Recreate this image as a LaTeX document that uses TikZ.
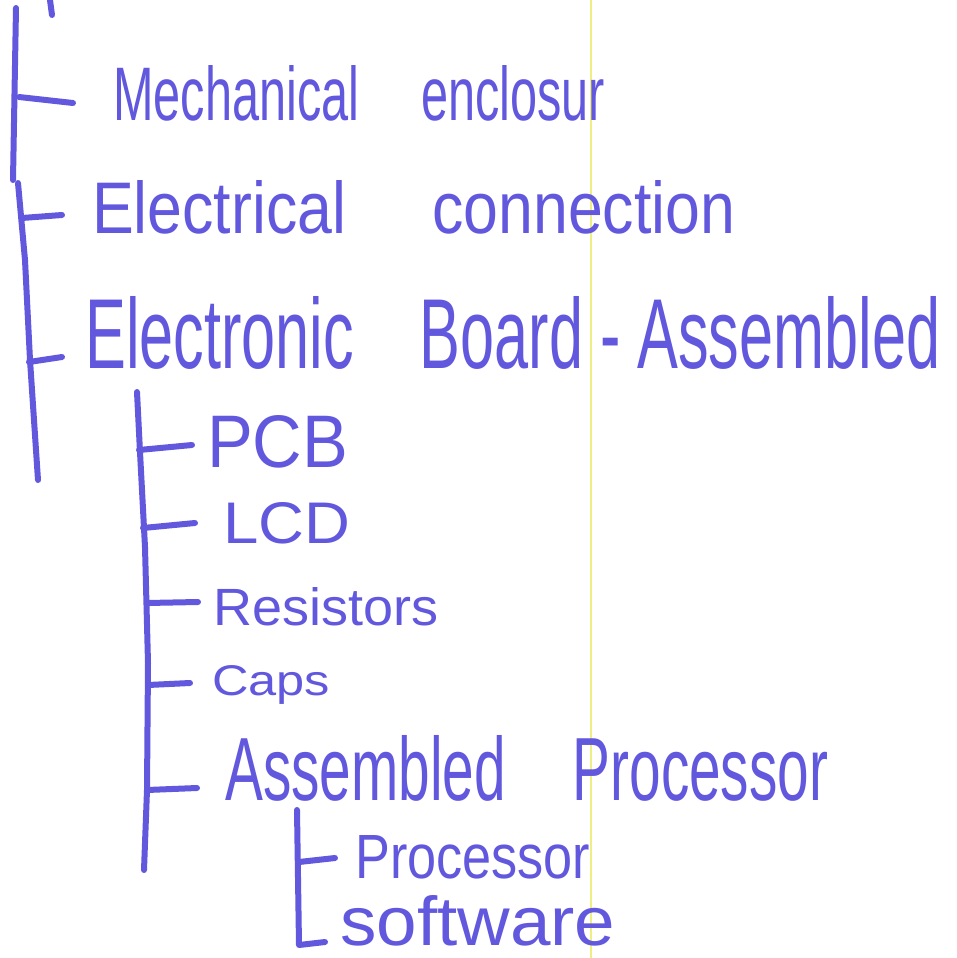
\documentclass[tikz,border=0pt]{standalone}
\usepackage{fontspec}
\setmainfont{Liberation Sans}
\usepackage{graphicx}
\definecolor{ink}{RGB}{98,88,222}
\definecolor{guide}{RGB}{238,238,130}
% scale a label to a fixed width and height (in pt)
\newcommand\hw[3]{\resizebox{#1pt}{#2pt}{#3}}
\begin{document}
\begin{tikzpicture}[x=1pt,y=-1pt,
  pen/.style={draw=ink, line width=6pt, line cap=round, line join=round},
  lbl/.style={anchor=base west, inner sep=0pt, text=ink}]
\useasboundingbox[fill=white] (0,0) rectangle (956,958);
% faint vertical guide
\draw[guide, line width=1.2pt] (591,0) -- (591,958);

% ---- labels ----
\node[lbl] (mech)  at (113,120) {\hw{492}{55}{Mechanical \hspace{1em}enclosur}};
\node[lbl] (elec)  at (92,233)  {\hw{643}{53}{Electrical \hspace{1.1em}connection}};
\node[lbl] (board) at (85,368)  {\hw{855}{72}{Electronic \hspace{0.8em}Board - Assembled}};
\node[lbl] (pcb)   at (207,467) {\hw{141}{52}{PCB}};
\node[lbl] (lcd)   at (223,543) {\hw{127}{41}{LCD}};
\node[lbl] (res)   at (213,625) {\hw{225}{38}{Resistors}};
\node[lbl] (caps)  at (212,695) {\hw{118}{30}{Caps}};
\node[lbl] (asm)   at (225,800) {\hw{603}{65}{Assembled \hspace{0.9em}Processor}};
\node[lbl] (proc)  at (355,878) {\hw{235}{43}{Processor}};
\node[lbl] (soft)  at (340,945) {\hw{275}{50}{software}};

% ---- trunk points ----
\coordinate (t0) at (16,8);
\coordinate (t1) at (13,180);
\coordinate (t2) at (18,183);
\coordinate (t3) at (25,260);
\coordinate (t4) at (30,360);
\coordinate (t5) at (38,480);
\coordinate (tick0) at (50,0);
\coordinate (tick1) at (52,15);

\coordinate (bm0) at (19,97);   \coordinate (bm1) at (73,103);
\coordinate (be0) at (22,218);  \coordinate (be1) at (62,215);
\coordinate (bb0) at (29,362);  \coordinate (bb1) at (62,357);

% sub-tree of the board
\coordinate (s0) at (137,392);
\coordinate (s1) at (140,452);
\coordinate (s2) at (145,547);
\coordinate (s3) at (148,663);
\coordinate (s4) at (147,790);
\coordinate (s5) at (144,870);
\coordinate (bp0) at (139,450); \coordinate (bp1) at (192,445);
\coordinate (bl0) at (143,528); \coordinate (bl1) at (195,523);
\coordinate (br0) at (147,603); \coordinate (br1) at (198,602);
\coordinate (bc0) at (148,685); \coordinate (bc1) at (190,683);
\coordinate (ba0) at (147,790); \coordinate (ba1) at (197,788);

% sub-tree of the processor
\coordinate (u0) at (297,810);
\coordinate (u1) at (299,945);
\coordinate (u2) at (325,942);
\coordinate (bq0) at (299,862); \coordinate (bq1) at (335,858);

% ---- connectors ----
\draw[pen] (t0) -- (t1);
\draw[pen] (t2) -- (t3) -- (t4) -- (t5);
\draw[pen] (tick0) -- (tick1);
\draw[pen] (bm0) -- (bm1);
\draw[pen] (be0) -- (be1);
\draw[pen] (bb0) -- (bb1);

\draw[pen] (s0) -- (s1) -- (s2) -- (s3) -- (s4) -- (s5);
\draw[pen] (bp0) -- (bp1);
\draw[pen] (bl0) -- (bl1);
\draw[pen] (br0) -- (br1);
\draw[pen] (bc0) -- (bc1);
\draw[pen] (ba0) -- (ba1);

\draw[pen] (u0) -- (u1) -- (u2);
\draw[pen] (bq0) -- (bq1);
\end{tikzpicture}
\end{document}
